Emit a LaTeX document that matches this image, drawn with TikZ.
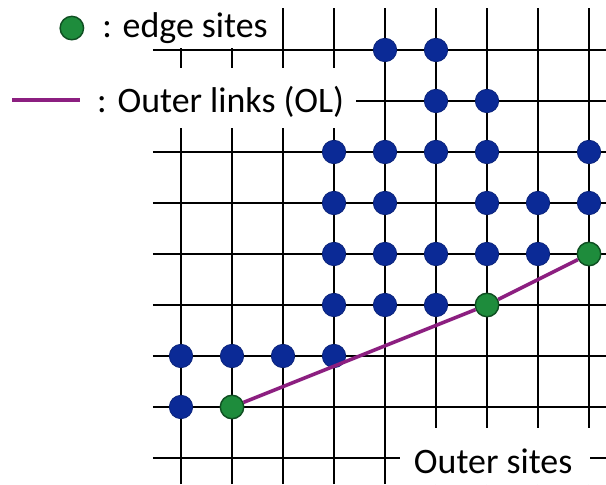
\documentclass[tikz,border=0pt]{standalone}
\usepackage{fontspec}
\setmainfont{Carlito}
\usetikzlibrary{positioning}
\definecolor{siteblue}{HTML}{0B2A96}
\definecolor{sitegreen}{HTML}{1E8C3C}
\definecolor{sitegreend}{HTML}{0F4F22}
\definecolor{olpurple}{HTML}{8C1F80}
\tikzset{
  % lattice bonds and the sites sitting on them
  gridline/.style = {line width=1.2pt, black},
  bsite/.style    = {circle, fill=siteblue, draw=siteblue!80!black, inner sep=0pt,
                     minimum size=4.6mm},
  esite/.style    = {circle, fill=sitegreen, draw=sitegreend, line width=0.8pt,
                     inner sep=0pt, minimum size=4.6mm},
  olink/.style    = {line width=2pt, olpurple},
  lbl/.style      = {font=\fontsize{20}{24}\selectfont, inner sep=0pt},
  blank/.style    = {fill=white},
}

\begin{document}
\begin{tikzpicture}[x=1cm,y=1cm]
\useasboundingbox (-3.549,-0.51) rectangle (8.333,8.98);
% --- square lattice ----------------------------------------------------
\foreach \r in {0,...,8}
  \draw[gridline] (-0.55,\r) -- (8.333,\r);
\foreach \c in {0,...,8}
  \draw[gridline] (\c,-0.51) -- (\c,8.82);
% --- white patches behind the labels -----------------------------------
\fill[blank] (-3.549,8.04) rectangle (1.90,8.98);
\fill[blank] (-3.549,6.47) rectangle (3.43,7.65);
\fill[blank] (4.29,-0.51) rectangle (8.02,0.59);
% --- occupied sites ----------------------------------------------------
\foreach \c/\r in {4/8,5/8, 5/7,6/7, 3/6,4/6,5/6,6/6,8/6,
                   3/5,4/5,6/5,7/5,8/5, 3/4,4/4,5/4,6/4,7/4,
                   3/3,4/3,5/3, 0/2,1/2,2/2,3/2, 0/1}
  \node[bsite] (s-\c-\r) at (\c,\r) {};
% --- edge sites and outer links ----------------------------------------
\node[esite] (e1) at (1,1) {};
\node[esite] (e2) at (6,3) {};
\node[esite] (e3) at (8,4) {};
\draw[olink] (e1) -- (e2);
\draw[olink] (e2) -- (e3);
% --- legend ------------------------------------------------------------
\node[esite] (lg-dot) at (-2.14,8.43) {};
\node[lbl, anchor=base west] (lg-edge) at (-1.55,8.25) {: edge sites};
\coordinate (lg-a) at (-3.31,7.02);
\coordinate (lg-b) at (-1.98,7.02);
\draw[olink, line width=2.6pt] (lg-a) -- (lg-b);
\node[lbl, anchor=base west] (lg-ol) at (-1.65,6.78) {: Outer links (OL)};
% --- outer sites label -------------------------------------------------
\node[lbl, anchor=base] (outer) at (6.12,-0.31) {Outer sites};
\end{tikzpicture}
\end{document}
